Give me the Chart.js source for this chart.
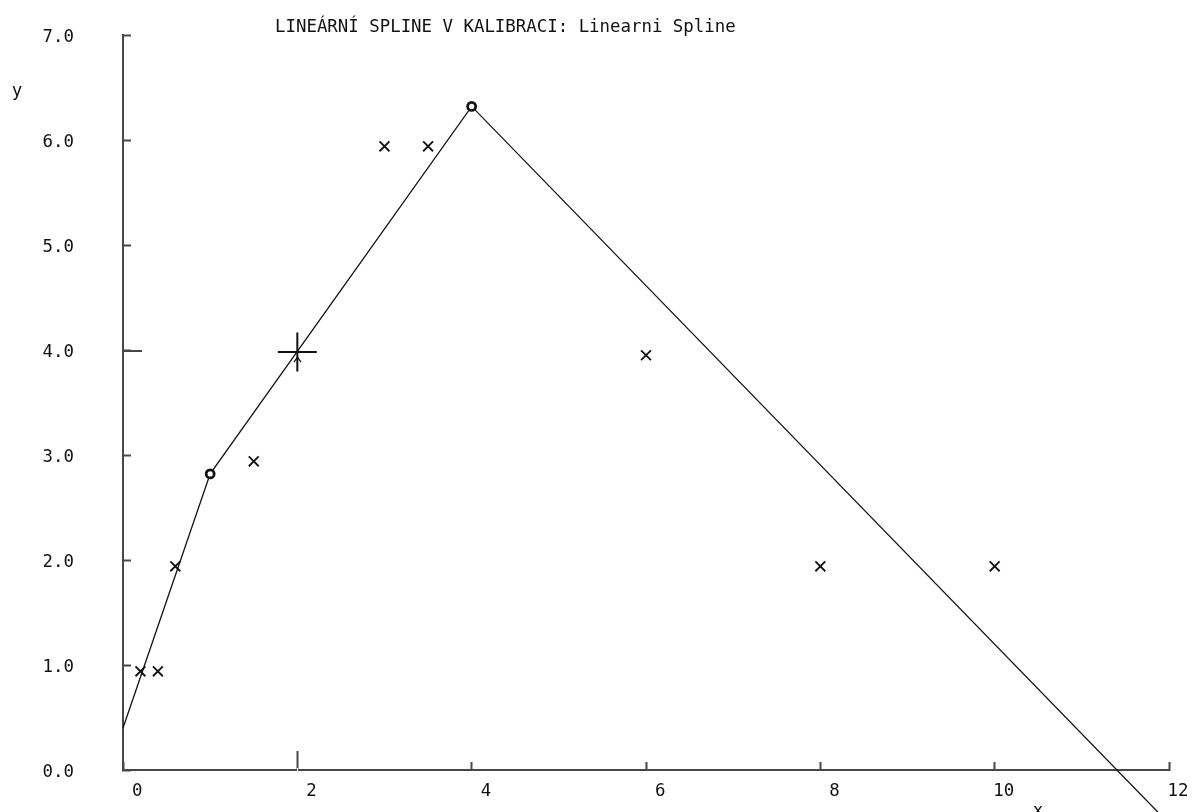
<!DOCTYPE html>
<html>
<head>
<meta charset="utf-8">
<script src="https://cdn.jsdelivr.net/npm/chart.js@4/dist/chart.umd.min.js"></script>
<style>
  html, body { margin: 0; padding: 0; background: #fff; overflow: hidden; }
  canvas { display: block; }
</style>
</head>
<body>
<canvas id="c" width="1192" height="812"></canvas>
<script>
// Texts
const TITLE = 'LINEÁRNÍ SPLINE V KALIBRACI: Linearni Spline';
const X_TITLE = 'x';
const Y_TITLE = 'y';

// Calibration standards (measured points)
const stdX = [0.2, 0.4, 0.6, 1.5, 3.0, 3.5, 6.0, 8.0, 10.0];
const stdY = [0.94, 0.94, 1.94, 2.94, 5.94, 5.94, 3.95, 1.94, 1.94];

// Linear spline knots
const knotX = [0, 1.0, 4.0, 12];
const knotY = [0.4, 2.82, 6.32, -0.51];
const knotMarked = [false, true, true, false];

// Inverse reading on the calibration line
const readX = [2.0];
const readY = [3.98];

// Axis ticks
const xTicks = [0, 2, 4, 6, 8, 10, 12];
const yTicks = [0, 1, 2, 3, 4, 5, 6, 7];

const FONT = 'DejaVu Sans Mono';
const INK = '#111111';
const AXIS = '#474747';

const pts = (xs, ys) => xs.map((x, i) => ({ x, y: ys[i] }));

const decorations = {
  id: 'decorations',
  afterDraw(chart) {
    const { ctx, scales: { x, y } } = chart;
    ctx.save();
    ctx.fillStyle = INK;
    ctx.font = '17.4px "' + FONT + '"';
    ctx.textBaseline = 'middle';
    ctx.textAlign = 'left';
    ctx.fillText(TITLE, 275, 27);

    ctx.textAlign = 'center';
    ctx.textBaseline = 'alphabetic';
    ctx.fillText(Y_TITLE, 17, 96);
    ctx.fillText(X_TITLE, 1038, 816);

    // projections of the reading onto both axes
    const px = Math.round(x.getPixelForValue(readX[0])) + 0.5;
    const py = y.getPixelForValue(readY[0]);
    const axisY = y.getPixelForValue(0);
    const axisX = x.getPixelForValue(0);

    ctx.strokeStyle = '#ffffff';
    ctx.lineWidth = 1;
    ctx.beginPath();
    ctx.moveTo(px, axisY - 2);
    ctx.lineTo(px, axisY + 2);
    ctx.stroke();

    ctx.strokeStyle = AXIS;
    ctx.lineWidth = 2;
    ctx.beginPath();
    ctx.moveTo(px, axisY - 19);
    ctx.lineTo(px, axisY - 8);
    ctx.stroke();

    ctx.beginPath();
    ctx.moveTo(axisX, Math.round(py) - 1);
    ctx.lineTo(axisX + 19, Math.round(py) - 1);
    ctx.stroke();

    // small arrow under the reading cross
    ctx.strokeStyle = INK;
    ctx.lineWidth = 1.2;
    ctx.beginPath();
    ctx.moveTo(px - 3.5, py + 10);
    ctx.lineTo(px, py + 5);
    ctx.lineTo(px + 3.5, py + 10);
    ctx.stroke();
    ctx.restore();
  }
};

new Chart(document.getElementById('c'), {
  data: {
    datasets: [
      {
        type: 'line',
        data: pts(knotX, knotY),
        borderColor: INK,
        borderWidth: 1.3,
        backgroundColor: '#ffffff',
        pointStyle: 'circle',
        pointRadius: knotMarked.map(m => m ? 4 : 0),
        pointBorderWidth: 2.8,
        pointBorderColor: INK,
        pointBackgroundColor: '#ffffff',
        tension: 0,
        clip: false,
        order: 2
      },
      {
        type: 'scatter',
        data: pts(stdX, stdY),
        pointStyle: 'crossRot',
        pointRadius: 7,
        borderWidth: 1.8,
        borderColor: INK,
        backgroundColor: INK,
        order: 1
      },
      {
        type: 'scatter',
        data: pts(readX, readY),
        pointStyle: 'cross',
        pointRadius: 19.5,
        borderWidth: 2,
        borderColor: INK,
        backgroundColor: INK,
        order: 0
      }
    ]
  },
  options: {
    responsive: false,
    animation: false,
    events: [],
    layout: { padding: { top: 35, left: 0, right: 23, bottom: 0 } },
    plugins: {
      legend: { display: false },
      title: { display: false },
      tooltip: { enabled: false }
    },
    scales: {
      x: {
        type: 'linear',
        min: 0,
        max: 12,
        afterBuildTicks: s => { s.ticks = xTicks.map(v => ({ value: v })); },
        afterFit: s => { s.height = 42; s.paddingLeft = 0; s.paddingRight = 0; },
        border: { color: AXIS, width: 2 },
        grid: { drawOnChartArea: false, drawTicks: true, tickLength: -8, tickWidth: 2, tickColor: AXIS, color: AXIS },
        ticks: {
          autoSkip: false,
          maxRotation: 0,
          padding: 19,
          labelOffset: 9,
          color: INK,
          font: { family: FONT, size: 17.4 },
          callback: v => String(v).padStart(2, ' ')
        }
      },
      y: {
        type: 'linear',
        min: 0,
        max: 7,
        afterBuildTicks: s => { s.ticks = yTicks.map(v => ({ value: v })); },
        afterFit: s => { s.width = 123; s.paddingTop = 0; s.paddingBottom = 0; },
        border: { color: AXIS, width: 2 },
        grid: { drawOnChartArea: false, drawTicks: true, tickLength: -8, tickWidth: 2, tickColor: AXIS, color: AXIS },
        ticks: {
          padding: 57,
          labelOffset: 2,
          color: INK,
          font: { family: FONT, size: 17.4 },
          callback: v => Number(v).toFixed(1)
        }
      }
    }
  },
  plugins: [decorations]
});
</script>
</body>
</html>
